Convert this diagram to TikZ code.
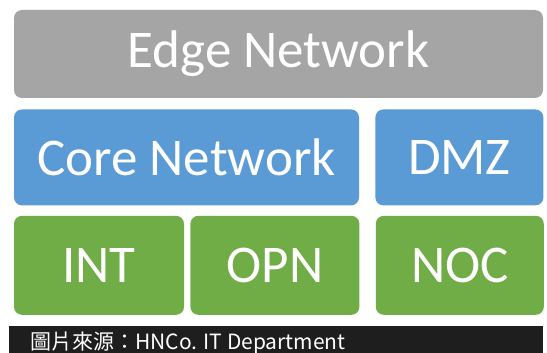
\documentclass[tikz,border=0pt]{standalone}
\usepackage{fontspec}
\setmainfont{Carlito}
\newfontfamily\cjk{Noto Sans CJK TC}
\usetikzlibrary{positioning}
\definecolor{edgegray}{HTML}{A5A5A5}
\definecolor{coreblue}{HTML}{5B9BD5}
\definecolor{zonegreen}{HTML}{70AD47}
\definecolor{barblack}{HTML}{1E1E1E}
\tikzset{
	layer/.style={rounded corners=8pt, text=white, inner sep=0pt,
		font=\fontsize{53}{60}\selectfont},
}

\begin{document}
\begin{tikzpicture}[x=1pt, y=-1pt]
	\clip (0,0) rectangle (547,353);
	\fill[white] (0,0) rectangle (547,353);
	\node [layer, fill=edgegray, minimum width=529pt, minimum height=88pt] (edge) at (278.5,54) {Edge Network};
	\node [layer, fill=coreblue, minimum width=345pt, minimum height=96pt, below right=11pt and 0pt of edge.south west] (core) {Core Network};
	\node [layer, fill=coreblue, minimum width=168pt, minimum height=96pt, right=16pt of core] (dmz) {DMZ};
	\node [layer, fill=zonegreen, minimum width=170pt, minimum height=99pt, below right=10pt and 0pt of core.south west] (int) {INT};
	\node [layer, fill=zonegreen, minimum width=169pt, minimum height=99pt, right=6pt of int] (opn) {OPN};
	\node [layer, fill=zonegreen, minimum width=168pt, minimum height=99pt, right=16pt of opn] (noc) {NOC};
	\fill [barblack] (9,326) rectangle (543,360);
	\node [anchor=base west, inner sep=0pt, text=white, font=\cjk\fontsize{21}{25}\selectfont] (src) at (30,349) {圖片來源：HNCo. IT Department};
\end{tikzpicture}
\end{document}
